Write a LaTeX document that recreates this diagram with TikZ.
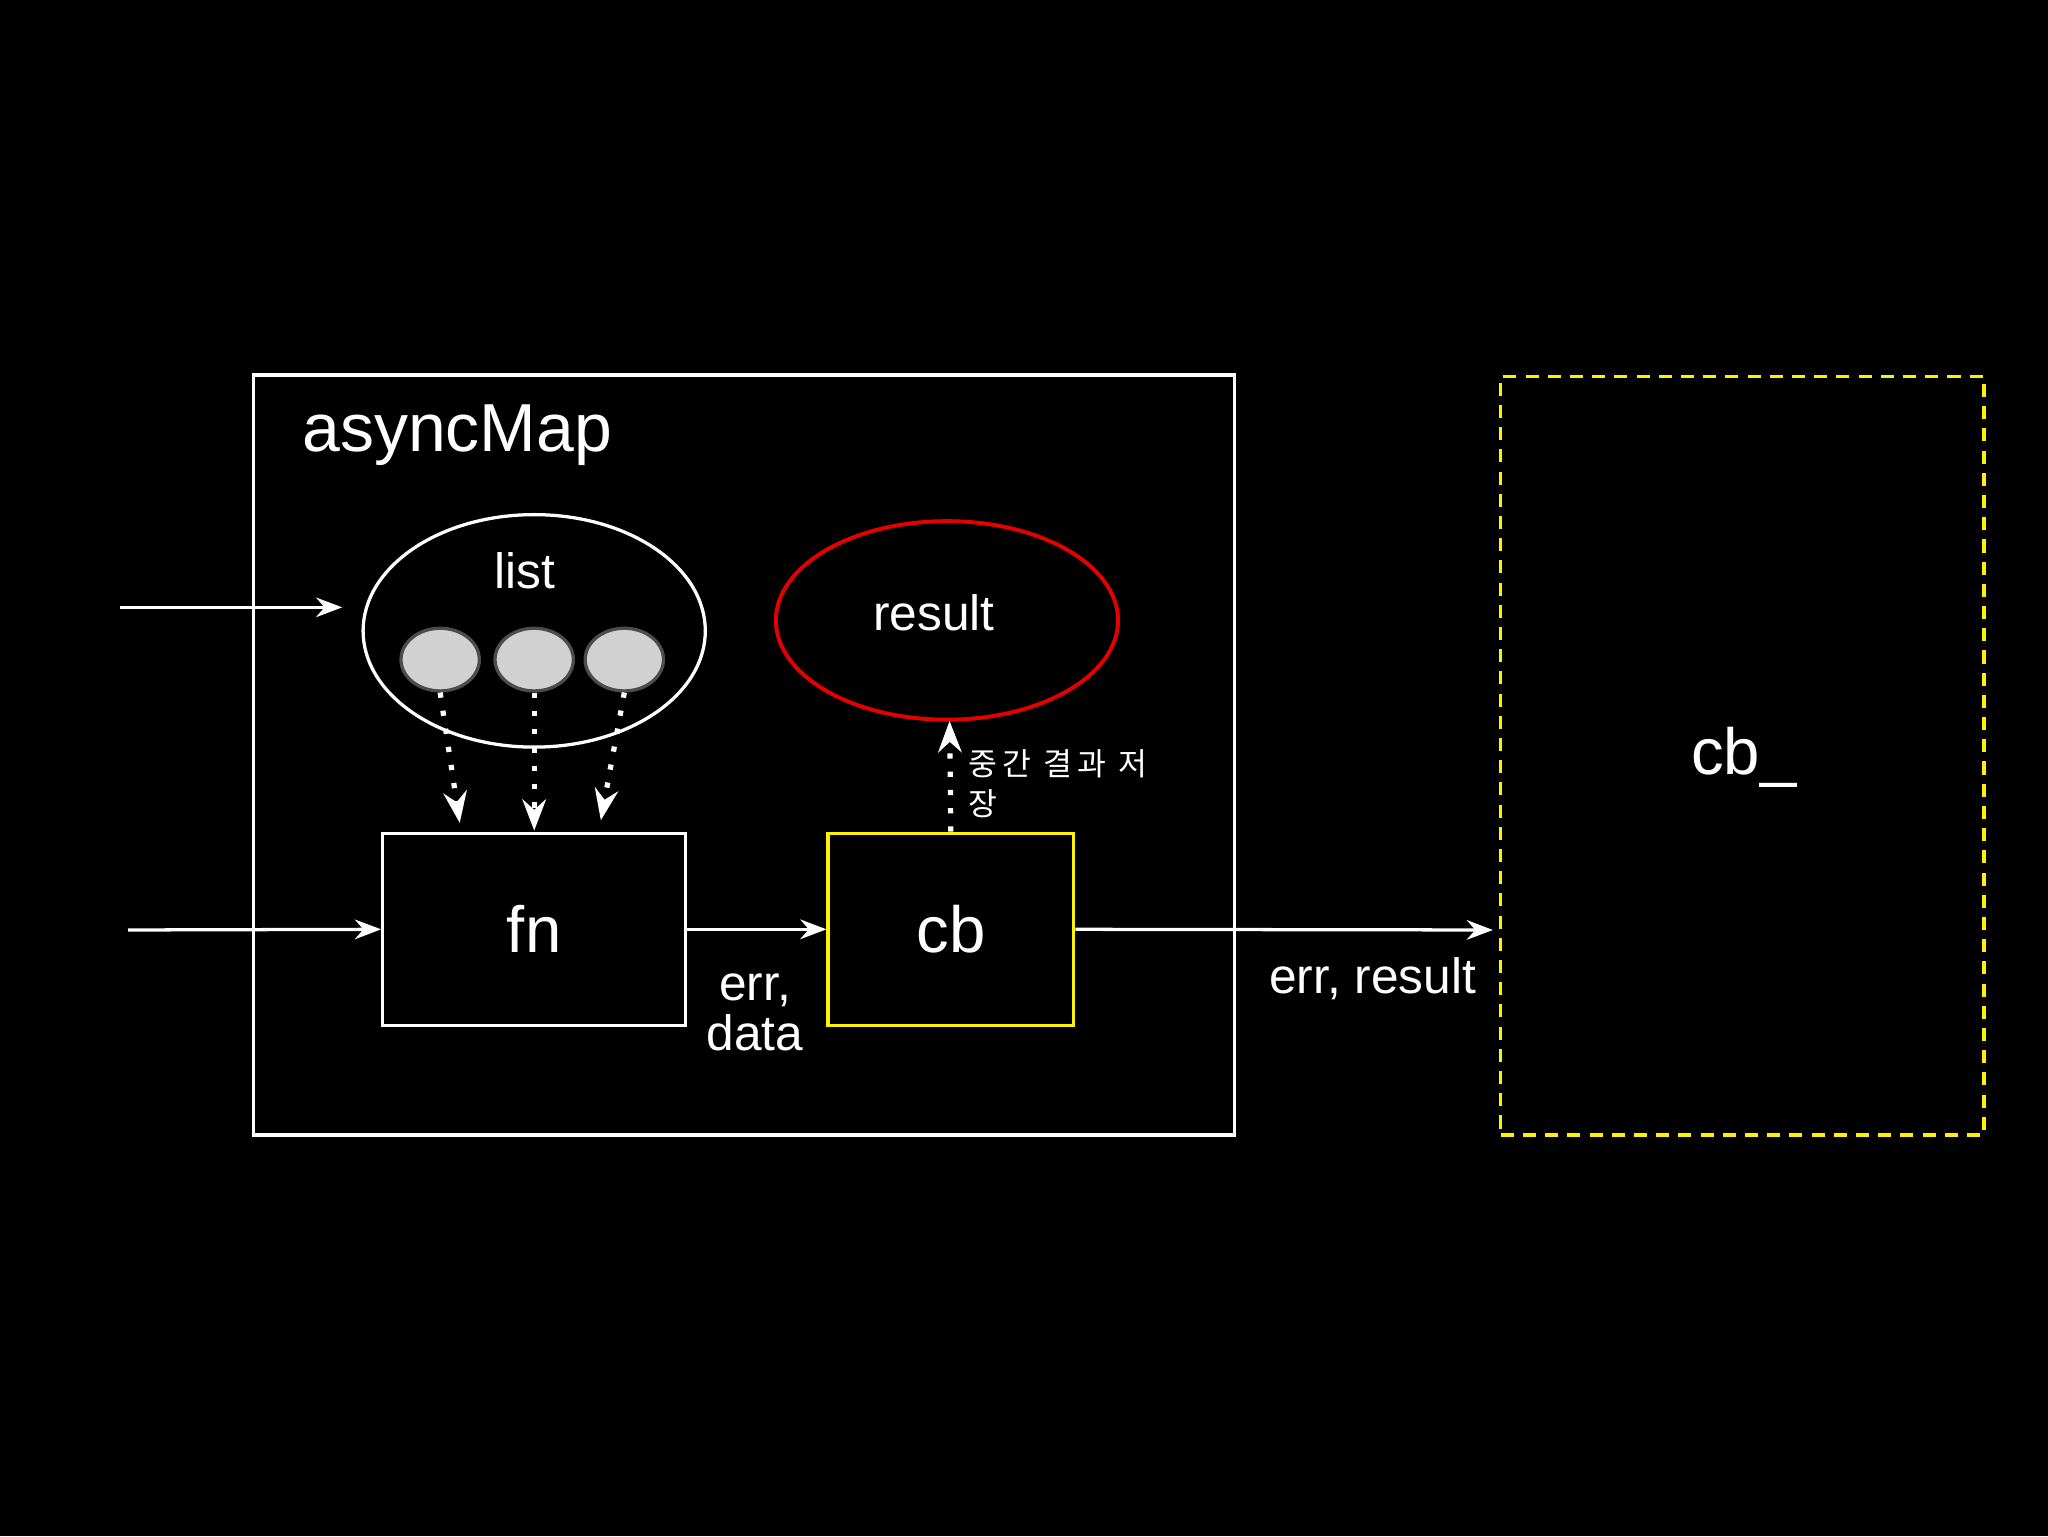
\documentclass[tikz,border=0pt]{standalone}
\usepackage{fontspec}
\setmainfont{Liberation Sans}
\newfontfamily\kor{Noto Sans CJK KR}
\usetikzlibrary{arrows.meta,shapes.geometric}
\begin{document}
\begin{tikzpicture}[x=1pt,y=-1pt,
  line/.style={draw=white,line width=2.5pt},
  arr/.style={white,line width=2.5pt,-{Stealth[length=20pt,width=15pt]}},
  dots/.style={white,line width=4pt,dash pattern=on 4pt off 10pt,-{Stealth[length=24pt,width=18pt,inset=8pt]}},
  lbl/.style={text=white,font=\fontsize{38}{42}\selectfont,align=center},
  item/.style={ellipse,draw=black!70,line width=2.5pt,fill=black!18,minimum width=60pt,minimum height=48pt,inner sep=0pt}
]
\fill[black] (0,0) rectangle (1568,1176);
\useasboundingbox (0,0) rectangle (1568,1176);
\draw[line] (194,287) rectangle (945,869);
\node[lbl,font=\fontsize{52}{56}\selectfont] (title) at (350,333) {asyncMap};
\draw[line] (409,483) ellipse [x radius=131,y radius=89];
\node[lbl] (list) at (402,437) {list};
\node[item] (i1) at (337,505) {};
\node[item] (i2) at (409,505) {};
\node[item] (i3) at (478,505) {};
\draw[draw=red!90!black,line width=3pt] (725,475) ellipse [x radius=131,y radius=76];
\coordinate (resb) at (727,552);
\node[lbl] (result) at (715,469) {result};
\node[draw=white,line width=2.5pt,minimum width=232pt,minimum height=147pt,inner sep=0pt,text=white,font=\fontsize{50}{52}\selectfont] (fn) at (409,711.5) {fn};
\node[draw=yellow,line width=2.5pt,minimum width=188pt,minimum height=147pt,inner sep=0pt,text=white,font=\fontsize{50}{52}\selectfont] (cb) at (728,711.5) {cb};
\node[draw=yellow,line width=2.5pt,dashed,dash pattern=on 10pt off 7pt,minimum width=370pt,minimum height=581pt,inner sep=0pt] (cbb) at (1334,578.5) {};
\node[lbl,font=\fontsize{50}{54}\selectfont] (cbl) at (1335,580) {cb\_};
\coordinate (a1) at (92,465);
\coordinate (a2) at (98,712);
\coordinate (a3) at (1143,712);
\draw[arr] (a1) -- (262,465);
\draw[arr] (a2) -- (fn.west);
\draw[arr] (fn.east) -- (cb.west);
\draw[arr] (cb.east) -- (a3);
\node[lbl] (ed) at (578,775) {err,\\[-4pt]data};
\node[lbl] (er) at (1051,749) {err, result};
\draw[dots] (i1.south) -- (352,630);
\draw[dots] (i2.south) -- (409,636);
\draw[dots] (i3.south) -- (460,628);
\draw[dots] (cb.north) -- (resb);
\node[text=white,font=\kor\fontsize{24}{31}\selectfont,align=left,anchor=north west] (kt) at (738,570) {중\,간\ \,결\,과\ \,저\\장};
\end{tikzpicture}
\end{document}
